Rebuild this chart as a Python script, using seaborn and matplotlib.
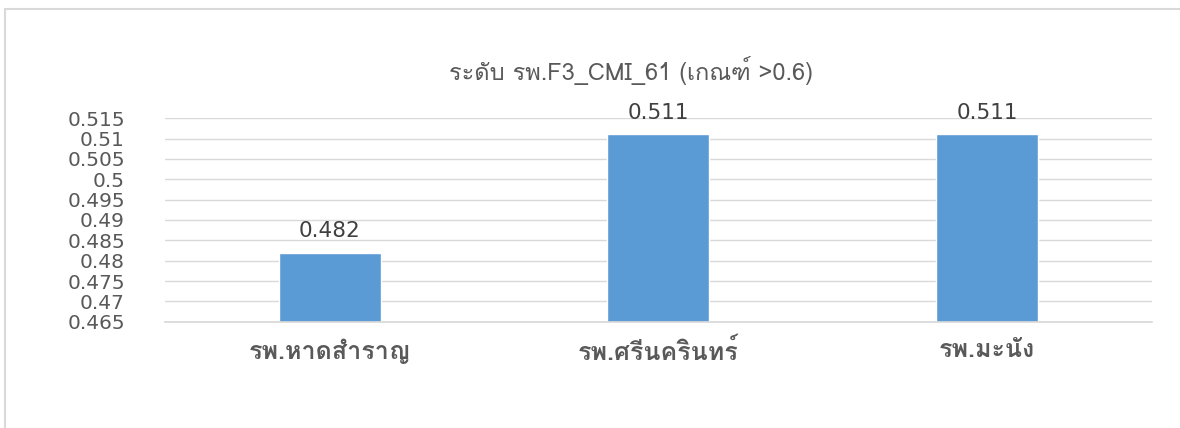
import numpy as np
import pandas as pd
import matplotlib
matplotlib.use("Agg")
import matplotlib.pyplot as plt
from matplotlib import font_manager
from matplotlib.ft2font import FT2Font
from matplotlib.lines import Line2D
import seaborn as sns

# data
hospitals = ["รพ.หาดสำราญ", "รพ.ศรีนครินทร์", "รพ.มะนัง"]
cmi_values = [0.482, 0.511, 0.511]
y_ticks = [0.465, 0.47, 0.475, 0.48, 0.485, 0.49, 0.495, 0.5, 0.505, 0.51, 0.515]
title = "ระดับ รพ.F3_CMI_61 (เกณฑ์ >0.6)"

df = pd.DataFrame({"hospital": hospitals, "cmi": cmi_values})

sns.set_theme(style="white")

# look for any installed family that can draw Thai
thai_family = None
for f in font_manager.fontManager.ttflist:
    try:
        ft = FT2Font(f.fname)
        if ft.get_char_index(ord("ร")) != 0:
            thai_family = f.name
            break
    except Exception:
        continue
families = ([thai_family] if thai_family else []) + ["DejaVu Sans"]
plt.rcParams["font.family"] = families

text_col = "#595959"
bar_col = "#5B9BD5"

fig = plt.figure(figsize=(11.8, 4.28), dpi=100)
ax = fig.add_axes([0.140, 0.248, 0.836, 0.476])

sns.barplot(data=df, x="hospital", y="cmi", color=bar_col, width=0.31,
            saturation=1, ax=ax)

ax.set_ylim(0.465, 0.515)
ax.set_yticks(y_ticks)
ax.set_yticklabels([f"{v:g}" for v in y_ticks], fontsize=14.5, color=text_col,
                   family="DejaVu Sans")
ax.yaxis.grid(True, color="#D9D9D9", linewidth=1)
ax.set_axisbelow(True)
ax.tick_params(axis="y", length=0, pad=29)
ax.tick_params(axis="x", length=0, pad=12)
for lbl in ax.get_xticklabels():
    lbl.set_fontsize(18)
    lbl.set_fontweight("bold")
    lbl.set_color(text_col)
ax.set_xlabel("")
ax.set_ylabel("")
for side in ["top", "right", "left"]:
    ax.spines[side].set_visible(False)
ax.spines["bottom"].set_color("#D9D9D9")

for i, v in enumerate(cmi_values):
    ax.annotate(f"{v:g}", (i, v), xytext=(0, 8), textcoords="offset points",
                ha="center", va="bottom", fontsize=15.5, color="#404040",
                family="DejaVu Sans")

fig.text(0.535, 0.836, title, ha="center", va="center", fontsize=17,
         color=text_col)

# chart frame, partly cut by the screenshot
fig.add_artist(Line2D([0.004, 1.0], [0.979, 0.979], color="#D9D9D9", lw=1.5))
fig.add_artist(Line2D([0.004, 0.004], [0.0, 0.979], color="#D9D9D9", lw=1.5))

fig.savefig("out.png", dpi=100)
